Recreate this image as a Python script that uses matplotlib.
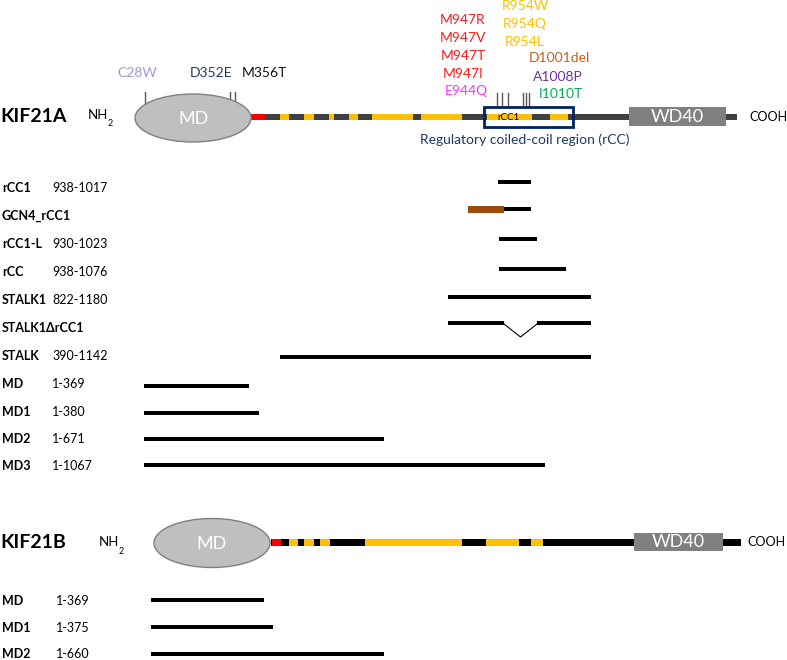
import matplotlib
matplotlib.use('Agg')
import matplotlib.pyplot as plt
from matplotlib.patches import Rectangle, Ellipse

plt.rcParams['font.family'] = ['Lato', 'DejaVu Sans']

# ---- KIF21A domain map (x in diagram pixels) ----
a_line = (251, 737)
a_red = (251, 265)
a_coils = [(280, 289), (304, 314), (329, 334), (349, 358), (372, 413),
           (421, 462), (487, 532), (550, 568)]
a_wd40 = (629, 726)
a_rcc_box = (484, 573)

a_mut_ticks = [145, 230, 235, 497, 502, 508, 523, 526, 529]
a_mut_names = ['C28W', 'D352E', 'M356T',
               'M947R', 'M947V', 'M947T', 'M947I', 'E944Q',
               'R954W', 'R954Q', 'R954L', 'D1001del', 'A1008P', 'I1010T']
a_mut_x = [137, 211, 264, 463, 463, 463, 463, 466, 525, 525, 525, 559, 558, 561]
a_mut_y = [73, 73, 73, 20, 38, 56, 74, 91, 6, 24, 42, 58, 77, 94]
a_mut_colors = ['#9a9ade', '#1f3864', '#111111',
                '#ff1a1a', '#ff1a1a', '#ff1a1a', '#ff1a1a', '#ff33ff',
                '#ffc000', '#ffc000', '#ffc000', '#c0601a', '#7030a0', '#00b050']

# ---- KIF21A constructs ----
a_names = ['rCC1', 'GCN4_rCC1', 'rCC1-L', 'rCC', 'STALK1', 'STALK1\u0394rCC1',
           'STALK', 'MD', 'MD1', 'MD2', 'MD3']
a_ranges = ['938-1017', '', '930-1023', '938-1076', '822-1180', '',
            '390-1142', '1-369', '1-380', '1-671', '1-1067']
a_label_y = [188, 216, 244, 272, 300, 328, 356, 384, 412, 439, 466]
a_bar_y = [182, 209, 239, 269, 297, 323, 357, 386, 413, 439, 465]
a_bar_x0 = [498, 504, 499, 499, 448, 448, 280, 144, 144, 144, 144]
a_bar_x1 = [531, 531, 537, 566, 591, 591, 591, 249, 259, 384, 545]
gcn4_tag = (468, 504)
delta_gap = (504, 537)

# ---- KIF21B domain map ----
b_line = (271, 741)
b_red = (272, 281)
b_coils = [(289, 298), (304, 314), (320, 330), (365, 462), (486, 519), (531, 543)]
b_wd40 = (634, 723)

b_names = ['MD', 'MD1', 'MD2']
b_ranges = ['1-369', '1-375', '1-660']
b_label_y = [601, 628, 654]
b_bar_y = [600, 627, 654]
b_bar_x0 = [151, 151, 151]
b_bar_x1 = [264, 273, 384]

YELLOW = '#ffc000'
RED = '#ff0000'

fig = plt.figure(figsize=(7.87, 6.6), dpi=100)
ax = fig.add_axes([0, 0, 1, 1])
ax.set_xlim(0, 787)
ax.set_ylim(660, 0)
ax.axis('off')


def seg(x0, x1, yc, h, color, z=2):
    ax.add_patch(Rectangle((x0, yc - h / 2), x1 - x0, h, facecolor=color,
                           edgecolor='none', zorder=z))


# KIF21A protein
ya = 117
ax.text(0, ya, 'KIF21A', fontsize=14, fontweight='bold', va='center', ha='left')
ax.text(88, ya - 2, 'NH', fontsize=9.5, va='center')
ax.text(108, ya + 7, '2', fontsize=6.5, va='center')
seg(*a_line, ya, 6, '#404040')
seg(*a_red, ya, 6, RED, 3)
for c0, c1 in a_coils:
    seg(c0, c1, ya, 6, YELLOW, 3)
ax.add_patch(Ellipse((193, 118), 116, 48, facecolor='#bfbfbf',
                     edgecolor='#7f7f7f', lw=1, zorder=4))
ax.text(193, 119, 'MD', fontsize=13, color='white', ha='center', va='center', zorder=5)
ax.add_patch(Rectangle((a_wd40[0], 107), a_wd40[1] - a_wd40[0], 19,
                       facecolor='#808080', edgecolor='none', zorder=4))
ax.text(sum(a_wd40) / 2, 117, 'WD40', fontsize=13, color='white',
        ha='center', va='center', zorder=5)
ax.text(749, ya, 'COOH', fontsize=9, va='center')
ax.add_patch(Rectangle((a_rcc_box[0], 107), a_rcc_box[1] - a_rcc_box[0], 20,
                       facecolor='none', edgecolor='#002060', lw=2, zorder=6))
ax.text(508, 117, 'rCC1', fontsize=7, va='center', ha='center', zorder=7)
ax.text(525, 140, 'Regulatory coiled-coil region (rCC)', fontsize=10,
        color='#1f3864', ha='center', va='center')

# mutation ticks and labels
for tx in a_mut_ticks:
    top = 92 if tx < 300 else 93
    ax.plot([tx, tx], [top, 104 if tx < 300 else 105], color='#595959', lw=1, zorder=3)
for name, x, y, c in zip(a_mut_names, a_mut_x, a_mut_y, a_mut_colors):
    ax.text(x, y, name, fontsize=10, color=c, ha='center', va='center')

# KIF21A constructs
for name, rng, ly, by, x0, x1 in zip(a_names, a_ranges, a_label_y, a_bar_y,
                                      a_bar_x0, a_bar_x1):
    ax.text(2, ly, name, fontsize=9, fontweight='bold', va='center')
    if rng:
        ax.text(52, ly, rng, fontsize=9, va='center')
    if name.startswith('STALK1\u0394'):
        seg(x0, delta_gap[0], by, 4, 'black')
        seg(delta_gap[1], x1, by, 4, 'black')
        ax.plot([delta_gap[0], sum(delta_gap) / 2, delta_gap[1]],
                [by + 1, by + 14, by + 1], color='black', lw=0.8)
    else:
        seg(x0, x1, by, 4, 'black')
    if name.startswith('GCN4'):
        seg(*gcn4_tag, by, 7, '#9c4a0c', 3)

# KIF21B protein
yb = 542
ax.text(0, yb, 'KIF21B', fontsize=14, fontweight='bold', va='center', ha='left')
ax.text(99, yb, 'NH', fontsize=9.5, va='center')
ax.text(119, yb + 9, '2', fontsize=6.5, va='center')
seg(*b_line, yb, 7, 'black')
seg(*b_red, yb, 7, RED, 3)
for c0, c1 in b_coils:
    seg(c0, c1, yb, 7, YELLOW, 3)
ax.add_patch(Ellipse((212, 543), 116, 49, facecolor='#bfbfbf',
                     edgecolor='#7f7f7f', lw=1, zorder=4))
ax.text(212, 544, 'MD', fontsize=13, color='white', ha='center', va='center', zorder=5)
ax.add_patch(Rectangle((b_wd40[0], 533), b_wd40[1] - b_wd40[0], 18,
                       facecolor='#808080', edgecolor='none', zorder=4))
ax.text(sum(b_wd40) / 2, 542, 'WD40', fontsize=13, color='white',
        ha='center', va='center', zorder=5)
ax.text(747, yb, 'COOH', fontsize=9, va='center')

for name, rng, ly, by, x0, x1 in zip(b_names, b_ranges, b_label_y, b_bar_y,
                                      b_bar_x0, b_bar_x1):
    ax.text(2, ly, name, fontsize=9, fontweight='bold', va='center')
    ax.text(56, ly, rng, fontsize=9, va='center')
    seg(x0, x1, by, 4, 'black')

fig.savefig('out.png', dpi=100)
